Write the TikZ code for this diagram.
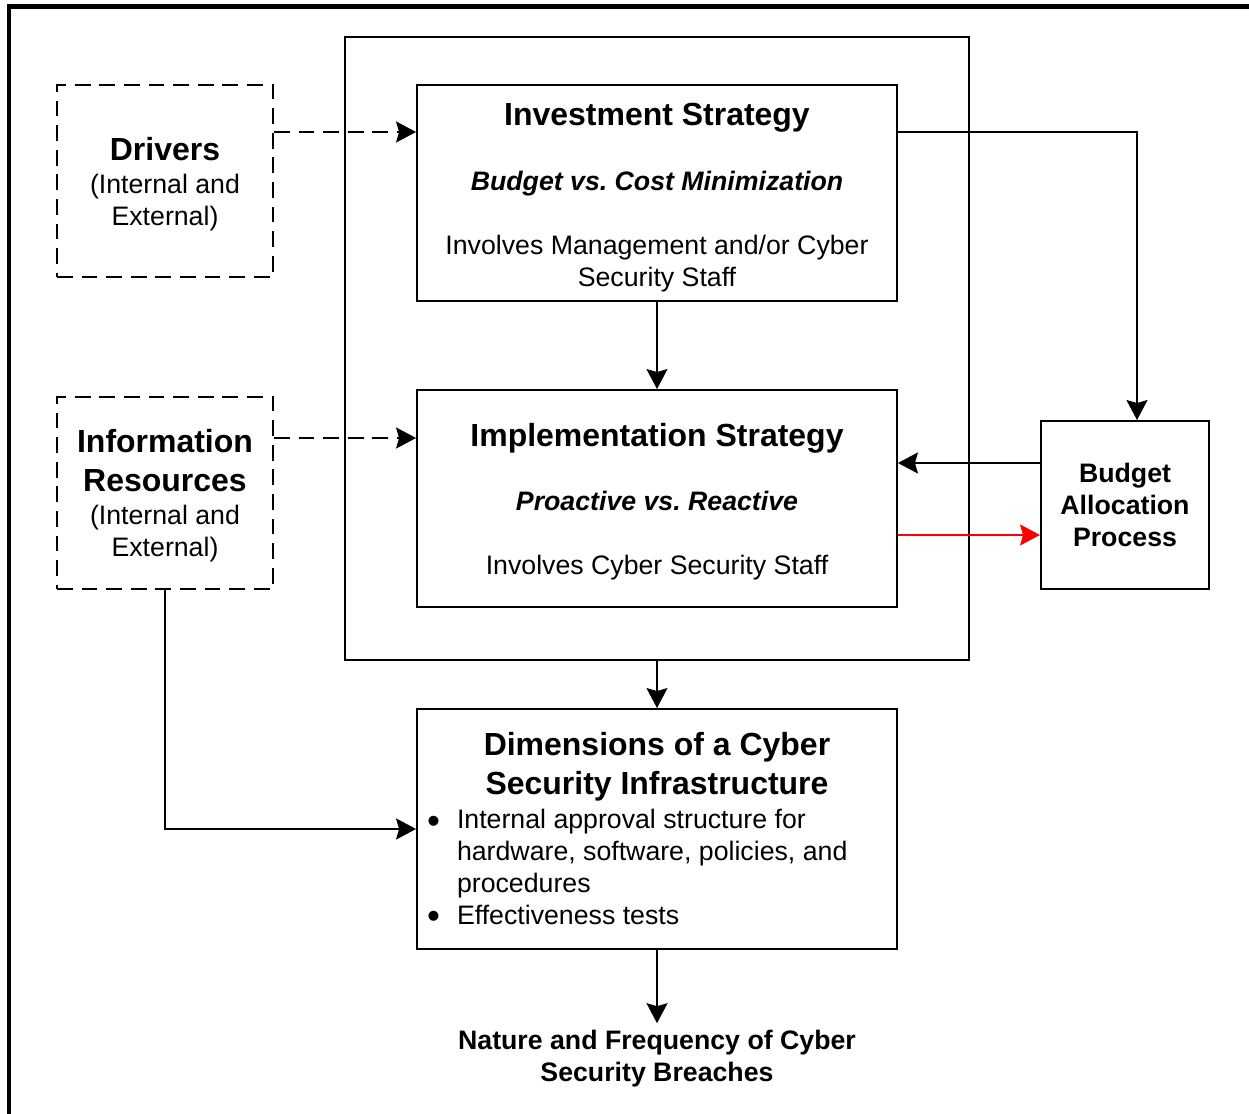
\documentclass[tikz,border=0pt]{standalone}
\usepackage{fontspec}
\setmainfont{Liberation Sans}
\usepackage{array}
\usetikzlibrary{arrows.meta,positioning}
\frenchspacing

% font sizes used in the boxes
\newcommand{\bodyfont}{\fontsize{15.2}{18.2}\selectfont}
\newcommand{\headfont}{\fontsize{18.2}{18.2}\selectfont\bfseries}
\newcommand{\dimbullet}{\raisebox{-2.8pt}{\fontsize{21}{18.2}\selectfont\textbullet}}
% extra room above a heading line
\newcommand{\headstrut}[1]{\rule{0pt}{#1}}

\begin{document}
\begin{tikzpicture}[
  x=0.02cm,y=-0.02cm,
  font=\bodyfont,
  box/.style={draw,line width=1.1pt,inner sep=0pt,align=center},
  drvbox/.style={draw,dashed,dash pattern=on 9pt off 5pt,line width=1.1pt,
                 inner sep=0pt,align=center,minimum width=4.32cm,minimum height=3.84cm},
  stratbox/.style={box,minimum width=9.6cm,minimum height=4.32cm},
  arrow/.style={-{Stealth[length=4mm,width=4.2mm,inset=0.6mm]},line width=1.1pt},
  dasharrow/.style={arrow,dash pattern=on 9pt off 5pt}
]
\useasboundingbox (0,0) rectangle (1249,1114);
% outer frame, runs off the page at the right and bottom
\draw[line width=2.3pt] (9,1114) -- (9,6.5) -- (1249,6.5);

\node[box,minimum width=12.48cm,minimum height=12.46cm] (strategy) at (657,348.5) {};

\node[stratbox] (invest) at (657,193)
 {\headstrut{17.5pt}{\headfont Investment Strategy}\\[0.66cm]
  {\bfseries\itshape Budget vs. Cost Minimization}\\[0.64cm]
  Involves Management and/or Cyber\\
  Security Staff};

\node[stratbox,minimum height=4.34cm] (implement) at (657,498.5)
 {\headstrut{16.8pt}{\headfont Implementation Strategy}\\[0.66cm]
  {\bfseries\itshape Proactive vs. Reactive}\\[0.64cm]
  Involves Cyber Security Staff};

\node[drvbox] (drivers) at (165,181)
 {\headstrut{16.4pt}{\headfont Drivers}\\[0.02cm]
  (Internal and\\
  External)};

\node[drvbox] (info) at (165,493)
 {\headstrut{16.4pt}{\headfont Information}\\[0.14cm]
  {\headfont Resources}\\[0.02cm]
  (Internal and\\
  External)};

\node[box,font=\bodyfont\bfseries,minimum width=3.36cm,minimum height=3.36cm]
 (budget) at (1125,505)
 {Budget\\Allocation\\Process};

\node[box,minimum width=9.6cm,minimum height=4.8cm] (dims) at (657,829)
 {\headstrut{17.5pt}{\headfont Dimensions of a Cyber}\\[0.14cm]
  {\headfont Security Infrastructure}\\[0.04cm]
  \begin{tabular}[t]{@{}p{0.6cm}@{}p{8.6cm}@{}}
   \dimbullet & Internal approval structure for\newline
                hardware, software, policies, and\newline
                procedures\\[0.02cm]
   \dimbullet & Effectiveness tests
  \end{tabular}};

\node[font=\bodyfont\bfseries,align=center,inner sep=0pt] (breaches) at (657,1059)
 {Nature and Frequency of Cyber\\Security Breaches};

% connectors
\draw[dasharrow] (drivers.east |- 0,132) coordinate (d1) -- (d1 -| invest.west);
\draw[dasharrow] (info.east |- 0,438) coordinate (i1) -- (i1 -| implement.west);
\draw[arrow] (invest) -- (implement);
\draw[arrow] (invest.east |- 0,132) coordinate (v1) -| ([xshift=0.24cm]budget.north);
\draw[arrow] (budget.west |- 0,463) coordinate (b1) -- (b1 -| implement.east);
\draw[arrow,red] (implement.east |- 0,535) coordinate (r1) -- (r1 -| budget.west);
\draw[arrow] (strategy) -- (dims);
\draw[arrow] (info.south) |- (dims.west);
\draw[arrow] (dims.south) -- ([yshift=0.14cm]breaches.north);
\end{tikzpicture}
\end{document}
